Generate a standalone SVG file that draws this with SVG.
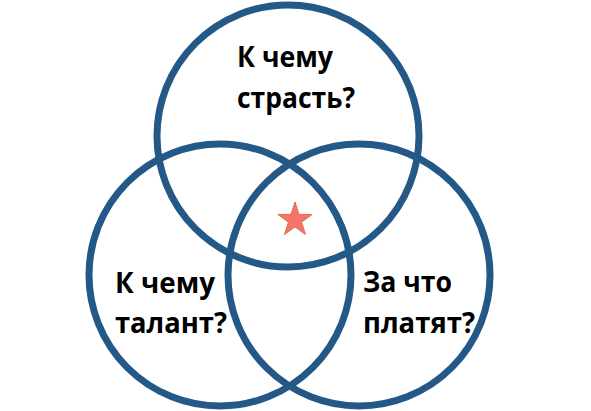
<svg xmlns="http://www.w3.org/2000/svg" width="591" height="411" viewBox="0 0 591 411">
<style>
.c{fill:none;stroke:#245887;stroke-width:7}
.t{font-family:"Open Sans","Noto Sans","DejaVu Sans",sans-serif;font-weight:bold;font-size:28px;fill:#000}
.s{fill:#F4736C;stroke:#E0713F;stroke-width:1}
</style>
<rect width="591" height="411" fill="#fff"/>
<g id="passion">
<circle class="c" cx="288" cy="136" r="131"/>
<text class="t" x="237" y="67" textLength="96" lengthAdjust="spacingAndGlyphs">К чему</text>
<text class="t" x="237" y="108" textLength="118" lengthAdjust="spacingAndGlyphs">страсть?</text>
</g>
<g id="talent">
<circle class="c" cx="220" cy="275" r="131"/>
<text class="t" x="115" y="293" textLength="100" lengthAdjust="spacingAndGlyphs">К чему</text>
<text class="t" x="115" y="333" textLength="112" lengthAdjust="spacingAndGlyphs">талант?</text>
</g>
<g id="pay">
<circle class="c" cx="359" cy="275" r="131"/>
<text class="t" x="363" y="292" textLength="89" lengthAdjust="spacingAndGlyphs">За что</text>
<text class="t" x="363" y="333" textLength="112" lengthAdjust="spacingAndGlyphs">платят?</text>
</g>
<g id="star">
<polygon class="s" points="295,202 299.06,214.42 312.12,214.44 301.56,222.13 305.58,234.56 295,226.9 284.42,234.56 288.44,222.13 277.88,214.44 290.94,214.42"/>
</g>
<g id="connectors"/>
</svg>
